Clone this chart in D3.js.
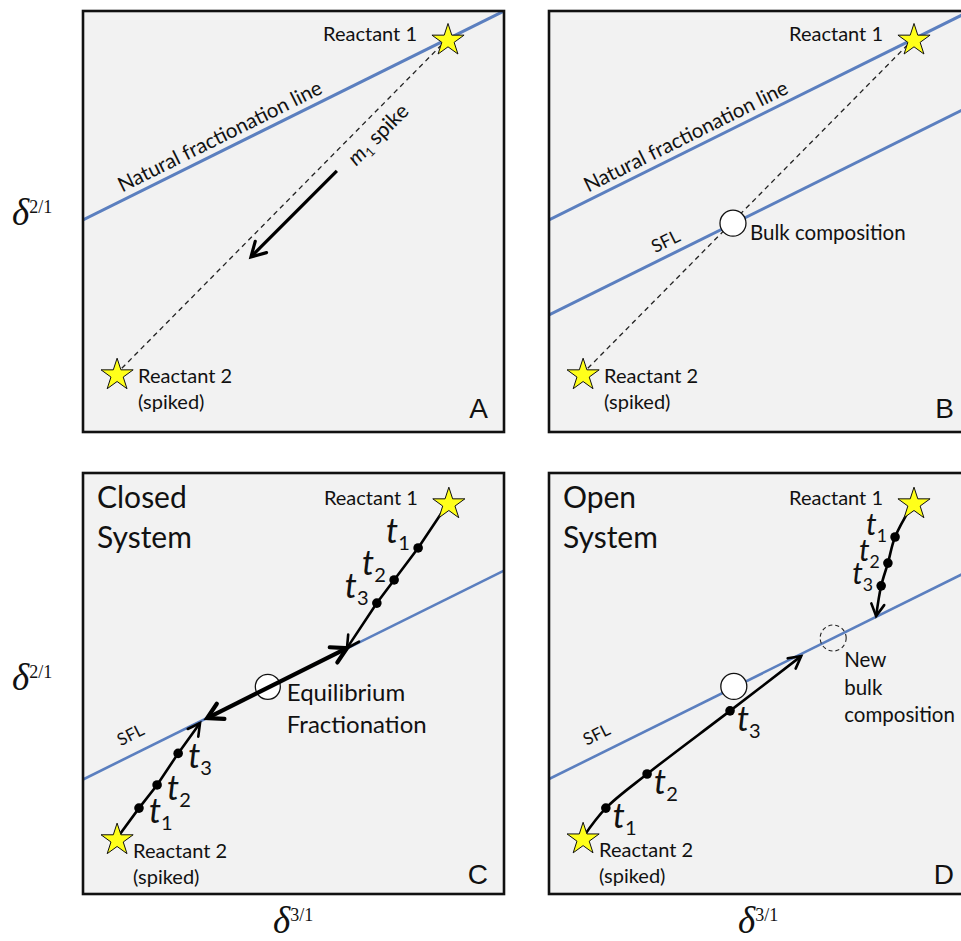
<!DOCTYPE html>
<html><head><meta charset="utf-8">
<script src="https://cdn.jsdelivr.net/npm/d3@7"></script>
<style>body{margin:0;background:#fff}svg{display:block}</style>
</head><body>
<svg id="fig" width="961" height="941"></svg>
<script>
// Three-isotope schematic (δ2/1 vs δ3/1): spike mixing, closed and open systems.

// Fractionation lines share one slope; intercepts in δ units
const fractionationSlope = 0.496;
const naturalLineIntercept = 5.04;
const spikedLineIntercept = {B: 2.78, C: 2.72, D: 2.73};

// End-member compositions [δ3/1, δ2/1]
const reactant1 = {A: [8.67, 9.35], B: [8.67, 9.35], C: [8.69, 9.31], D: [8.67, 9.31]};
const reactant2 = {A: [0.81, 1.40], B: [0.81, 1.40], C: [0.81, 1.33], D: [0.81, 1.35]};

// Panel A: direction of adding the m1 spike
const spikeArrow = [[6.03, 6.20], [3.99, 4.16]];

// Bulk compositions
const bulkComposition = {B: [4.37, 4.96], C: [4.39, 4.92], D: [4.39, 4.93]};
const newBulkComposition = [6.75, 6.08];

// Time steps t1..t3 and where each trajectory ends on the SFL
const timeSteps = ["1", "2", "3"];
const closedPath1 = [[7.96, 8.22], [7.39, 7.46], [6.98, 6.91]];
const closedPath1End = [6.27, 5.84];
const closedPath2 = [[1.33, 2.04], [1.76, 2.59], [2.26, 3.34]];
const closedPath2End = [2.78, 4.06];
const equilibriumRange = [[2.95, 4.18], [6.27, 5.84]];
const openPath1 = [[8.22, 8.48], [8.05, 7.86], [7.89, 7.32]];
const openPath1End = [7.77, 6.60];
const openPath2 = [[1.35, 2.04], [2.33, 2.85], [4.30, 4.35]];
const openPath2End = [5.99, 5.65];

const panelLetters = ["A", "B", "C", "D"];

const svg = d3.select("#fig");
const SIZE = 421;
const layout = {A: [83, 11], B: [549, 11], C: [83, 473], D: [549, 473]};
const SANS = "Lato, 'Open Sans', sans-serif";
const BLUE = "#5b7fbf";

const defs = svg.append("defs");
function chevron(id, len, half, width) {
  defs.append("marker")
    .attr("id", id).attr("markerUnits", "userSpaceOnUse")
    .attr("orient", "auto-start-reverse")
    .attr("markerWidth", 40).attr("markerHeight", 40)
    .attr("refX", 0).attr("refY", 0)
    .attr("viewBox", "-30 -20 40 40")
    .style("overflow", "visible")
    .append("path")
    .attr("d", `M${-len},${-half}L0,0L${-len},${half}`)
    .attr("fill", "none").attr("stroke", "#000")
    .attr("stroke-width", width)
    .attr("stroke-linecap", "round").attr("stroke-linejoin", "miter");
}
chevron("headA", 14, 8, 3.2);
chevron("headS", 12, 6.5, 2.6);
chevron("headB", 15, 8.5, 4.2);

const star = d3.symbol().type(d3.symbolStar).size(320);

panelLetters.forEach(id => {
  const [left, top] = layout[id];
  const x = d3.scaleLinear().domain([0, 10]).range([left, left + SIZE]);
  const y = d3.scaleLinear().domain([0, 10]).range([top + SIZE, top]);
  const line = d3.line().x(d => x(d[0])).y(d => y(d[1]));
  const onLine = (b, xv) => [xv, b + fractionationSlope * xv];
  const angle = (b) => Math.atan2(y(onLine(b, 10)[1]) - y(onLine(b, 0)[1]), x(10) - x(0)) * 180 / Math.PI;

  const g = svg.append("g");
  defs.append("clipPath").attr("id", "clip" + id)
    .append("rect").attr("x", left).attr("y", top).attr("width", SIZE).attr("height", SIZE);
  g.append("rect").attr("x", left).attr("y", top).attr("width", SIZE).attr("height", SIZE)
    .attr("fill", "#f2f2f2");
  const c = g.append("g").attr("clip-path", `url(#clip${id})`);

  const drawFracLine = (b) => c.append("path")
    .attr("d", line([onLine(b, 0), onLine(b, 10)]))
    .attr("stroke", BLUE).attr("stroke-width", id === "C" || id === "D" ? 2.6 : 3).attr("fill", "none");

  const lineLabel = (b, xv, txt, fs, off) => {
    const p = onLine(b, xv);
    c.append("text")
      .attr("transform", `translate(${x(p[0])},${y(p[1])}) rotate(${angle(b)})`)
      .attr("dy", off).attr("text-anchor", "middle")
      .attr("font-family", SANS).attr("font-size", fs).attr("fill", "#111").text(txt);
  };

  const r1 = reactant1[id], r2 = reactant2[id];

  if (id === "A" || id === "B") {
    drawFracLine(naturalLineIntercept);
    lineLabel(naturalLineIntercept, 3.4, "Natural fractionation line", 20.5, -7);
    c.append("path").attr("d", line([r1, r2]))
      .attr("stroke", "#222").attr("stroke-width", 1.3).attr("stroke-dasharray", "5,4").attr("fill", "none");
  }
  if (id === "A") {
    c.append("path").attr("d", line(spikeArrow))
      .attr("stroke", "#000").attr("stroke-width", 3.2).attr("fill", "none")
      .attr("marker-end", "url(#headA)");
    // label beside the mixing line
    const ang = Math.atan2(y(r1[1]) - y(r2[1]), x(r1[0]) - x(r2[0])) * 180 / Math.PI;
    const px = x(r1[0]) + (x(r2[0]) - x(r1[0])) * 0.25;
    const py = y(r1[1]) + (y(r2[1]) - y(r1[1])) * 0.25;
    const t = c.append("text")
      .attr("transform", `translate(${px},${py}) rotate(${ang})`)
      .attr("text-anchor", "middle").attr("dy", 25)
      .attr("font-family", SANS).attr("font-size", 21).attr("fill", "#111");
    t.append("tspan").attr("font-style", "italic").text("m");
    t.append("tspan").attr("font-size", 13).attr("dy", 4).text("1");
    t.append("tspan").attr("dy", -4).text(" spike");
  }
  if (id === "B") {
    drawFracLine(spikedLineIntercept.B);
    lineLabel(spikedLineIntercept.B, 2.92, "SFL", 18, -8);
    const bc = bulkComposition.B;
    c.append("circle").attr("cx", x(bc[0])).attr("cy", y(bc[1])).attr("r", 13)
      .attr("fill", "#fff").attr("stroke", "#111").attr("stroke-width", 1.3);
    c.append("text").attr("x", x(bc[0]) + 17).attr("y", y(bc[1]) + 17)
      .attr("font-family", SANS).attr("font-size", 20.5).attr("fill", "#111").text("Bulk composition");
  }

  const dots = (pts) => pts.forEach(p => c.append("circle")
    .attr("cx", x(p[0])).attr("cy", y(p[1])).attr("r", 4.8).attr("fill", "#000"));
  const tLabels = (pts, dx, dy, fs) => pts.forEach((p, i) => {
    const t = c.append("text").attr("x", x(p[0]) + dx).attr("y", y(p[1]) + dy)
      .attr("font-family", SANS).attr("fill", "#111");
    t.append("tspan").attr("font-style", "italic").attr("font-size", fs).text("t");
    t.append("tspan").attr("font-size", fs * 0.59).attr("dy", 7).text(timeSteps[i]);
  });

  if (id === "C") {
    const b = spikedLineIntercept.C;
    drawFracLine(b);
    lineLabel(b, 1.33, "SFL", 17, -13);
    c.append("path").attr("d", line([r1, ...closedPath1, closedPath1End]))
      .attr("stroke", "#000").attr("stroke-width", 2.6).attr("fill", "none").attr("marker-end", "url(#headS)");
    c.append("path").attr("d", line([r2, ...closedPath2, closedPath2End]))
      .attr("stroke", "#000").attr("stroke-width", 2.6).attr("fill", "none").attr("marker-end", "url(#headS)");
    dots(closedPath1); dots(closedPath2);
    tLabels(closedPath1, -32, -5, 34);
    tLabels(closedPath2, 10, 15, 34);
    const ec = bulkComposition.C;
    c.append("circle").attr("cx", x(ec[0])).attr("cy", y(ec[1])).attr("r", 12.5)
      .attr("fill", "#fff").attr("stroke", "#111").attr("stroke-width", 1.3);
    c.append("path").attr("d", line(equilibriumRange))
      .attr("stroke", "#000").attr("stroke-width", 4.2).attr("fill", "none")
      .attr("marker-start", "url(#headB)").attr("marker-end", "url(#headB)");
    const et = c.append("text").attr("font-family", SANS).attr("font-size", 24).attr("fill", "#111");
    et.append("tspan").attr("x", x(ec[0]) + 19).attr("y", y(ec[1]) + 14).text("Equilibrium");
    et.append("tspan").attr("x", x(ec[0]) + 19).attr("y", y(ec[1]) + 46).text("Fractionation");
  }

  if (id === "D") {
    const b = spikedLineIntercept.D;
    drawFracLine(b);
    lineLabel(b, 1.33, "SFL", 17, -13);
    const curve = d3.line().x(d => x(d[0])).y(d => y(d[1])).curve(d3.curveCatmullRom.alpha(0.5));
    c.append("path").attr("d", curve([r1, ...openPath1, openPath1End]))
      .attr("stroke", "#000").attr("stroke-width", 2.6).attr("fill", "none").attr("marker-end", "url(#headS)");
    c.append("path").attr("d", curve([r2, ...openPath2, openPath2End]))
      .attr("stroke", "#000").attr("stroke-width", 2.6).attr("fill", "none").attr("marker-end", "url(#headS)");
    dots(openPath1); dots(openPath2);
    tLabels(openPath1, -29, -2, 30);
    tLabels(openPath2, 7, 20, 34);
    const bc = bulkComposition.D;
    c.append("circle").attr("cx", x(bc[0])).attr("cy", y(bc[1])).attr("r", 13)
      .attr("fill", "#fff").attr("stroke", "#111").attr("stroke-width", 1.3);
    c.append("circle").attr("cx", x(newBulkComposition[0])).attr("cy", y(newBulkComposition[1])).attr("r", 13)
      .attr("fill", "none").attr("stroke", "#222").attr("stroke-width", 1.1).attr("stroke-dasharray", "4,3");
    const nt = c.append("text").attr("font-family", SANS).attr("font-size", 20.5).attr("fill", "#111");
    ["New", "bulk", "composition"].forEach((s, i) =>
      nt.append("tspan").attr("x", x(newBulkComposition[0]) + 11).attr("y", y(newBulkComposition[1]) + 29 + i * 27.5).text(s));
  }

  // reactant stars and labels
  [r1, r2].forEach(p => c.append("path")
    .attr("d", star).attr("transform", `translate(${x(p[0])},${y(p[1]) + 2})`)
    .attr("fill", "#ffff1a").attr("stroke", "#111").attr("stroke-width", 1));
  c.append("text").attr("x", x(r1[0]) - 31).attr("y", y(r1[1]) + 3).attr("text-anchor", "end")
    .attr("font-family", SANS).attr("font-size", 20).attr("fill", "#111").text("Reactant 1");
  const r2y = (id === "A" || id === "B") ? 10 : 20;
  const r2t = c.append("text").attr("font-family", SANS).attr("font-size", 20).attr("fill", "#111");
  r2t.append("tspan").attr("x", x(r2[0]) + (id === "A" || id === "B" ? 21 : 16)).attr("y", y(r2[1]) + r2y).text("Reactant 2");
  r2t.append("tspan").attr("x", x(r2[0]) + (id === "A" || id === "B" ? 21 : 16)).attr("y", y(r2[1]) + r2y + 26).text("(spiked)");

  if (id === "C" || id === "D") {
    const st = c.append("text").attr("font-family", SANS).attr("font-size", 30).attr("fill", "#111");
    st.append("tspan").attr("x", left + 14).attr("y", top + 35).text(id === "C" ? "Closed" : "Open");
    st.append("tspan").attr("x", left + 14).attr("y", top + 75).text("System");
  }

  // panel letter
  g.append("text").attr("x", left + SIZE - 16).attr("y", top + SIZE - (top < 100 ? 14 : 10))
    .attr("text-anchor", "end").attr("font-family", "'Liberation Sans', Arial, sans-serif")
    .attr("font-size", 28).attr("fill", "#111").text(id);

  // frame
  g.append("rect").attr("x", left).attr("y", top).attr("width", SIZE).attr("height", SIZE)
    .attr("fill", "none").attr("stroke", "#111").attr("stroke-width", 2.6);
});

// axis titles
function deltaLabel(px, py, sup) {
  const t = svg.append("text").attr("x", px).attr("y", py)
    .attr("font-family", "'Liberation Serif', 'DejaVu Serif', serif").attr("fill", "#111");
  t.append("tspan").attr("font-style", "italic").attr("font-size", 37).text("δ");
  t.append("tspan").attr("font-size", 18).attr("dy", -12).text(sup);
}
deltaLabel(12, 225, "2/1");
deltaLabel(12, 690, "2/1");
deltaLabel(273, 933, "3/1");
deltaLabel(738, 933, "3/1");
</script>
</body></html>
